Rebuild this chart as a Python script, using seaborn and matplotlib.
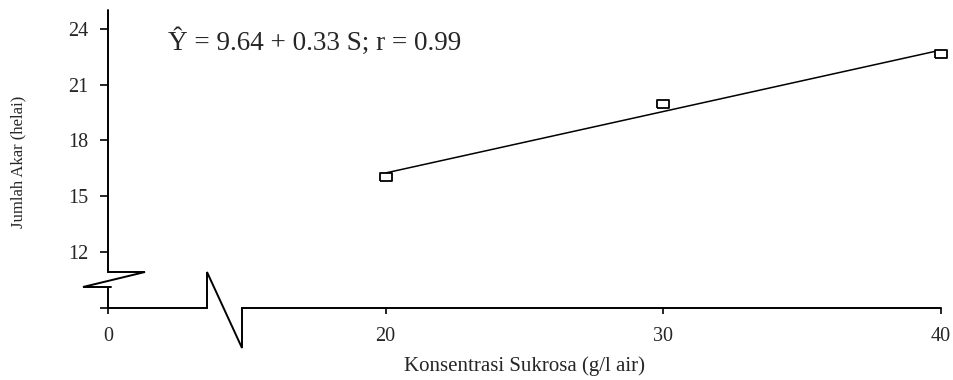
import numpy as np
import pandas as pd
import matplotlib
matplotlib.use("Agg")
import matplotlib.pyplot as plt
import seaborn as sns

# ---- data ----
sucrose = [20, 30, 40]            # Konsentrasi Sukrosa (g/l air)
roots = [16.05, 19.95, 22.65]     # Jumlah Akar (helai)
x_ticks = [0, 20, 30, 40]
x_ticklabels = ["0", "20", "30", "40"]
y_ticks = [9, 12, 15, 18, 21, 24]
y_ticklabels = ["", "12", "15", "18", "21", "24"]
equation = "\u0176 = 9.64 + 0.33 S; r = 0.99"
x_label = "Konsentrasi Sukrosa (g/l air)"
y_label = "Jumlah Akar (helai)"

df = pd.DataFrame({"S": sucrose, "Y": roots})

sns.set_style("ticks")
plt.rcParams["font.family"] = ["Liberation Serif", "DejaVu Serif"]

W, H = 954, 380
fig = plt.figure(figsize=(W / 100, H / 100), dpi=100)
L, R, T, B = 108, 941, 10, 308
ax = fig.add_axes([L / W, (H - B) / H, (R - L) / W, (B - T) / H])

# broken x scale: 0..20 compressed into 10..20
def fwd(x):
    x = np.asarray(x, dtype=float)
    return np.where(x < 20, 10 + x / 2.0, x)

def inv(u):
    u = np.asarray(u, dtype=float)
    return np.where(u < 20, (u - 10) * 2.0, u)

ax.set_xscale("function", functions=(fwd, inv))
ax.set_xlim(0, 40)
ax.set_ylim(9, 25)

sns.regplot(data=df, x="S", y="Y", ci=None, scatter=False, truncate=True,
            line_kws=dict(color="black", lw=1.1), ax=ax)
rect = [(-1, -0.65), (1, -0.65), (1, 0.65), (-1, 0.65), (-1, -0.65)]
sns.scatterplot(data=df, x="S", y="Y", marker=rect, s=70, facecolor="white",
                edgecolor="black", linewidth=1.3, zorder=4, clip_on=False, ax=ax)

ax.set_xticks(x_ticks)
ax.set_xticklabels(x_ticklabels)
ax.set_yticks(y_ticks)
ax.set_yticklabels(y_ticklabels)
ax.minorticks_off()
ax.tick_params(axis="x", length=4.5, width=1.2, pad=9, labelsize=14.5, color="black")
ax.tick_params(axis="y", length=6, width=1.2, pad=8, labelsize=14.5, color="black")

for s in ax.spines.values():
    s.set_visible(False)

def fx(px):
    return (px - L) / (R - L)

def fy(py):
    return (B - py) / (B - T)

lw = 1.4
# y-axis with break
ax.plot([fx(108), fx(108), fx(145), fx(83), fx(111)],
        [fy(10), fy(272), fy(272), fy(287), fy(287)],
        transform=ax.transAxes, color="black", lw=lw, clip_on=False,
        solid_joinstyle="miter")
ax.plot([fx(108), fx(108)], [fy(287), fy(308)], transform=ax.transAxes,
        color="black", lw=lw, clip_on=False)
# x-axis with break
ax.plot([fx(108), fx(207), fx(207), fx(242), fx(242), fx(941)],
        [fy(308), fy(308), fy(272), fy(348), fy(308), fy(308)],
        transform=ax.transAxes, color="black", lw=lw, clip_on=False,
        solid_joinstyle="miter")

ax.text(fx(168), fy(42), equation, transform=ax.transAxes, ha="left",
        va="center", fontsize=19.5)

ax.set_xlabel(x_label, fontsize=15)
ax.xaxis.set_label_coords(fx(525), fy(366))
ax.xaxis.label.set_va("center")
ax.set_ylabel(y_label, fontsize=12)
ax.yaxis.set_label_coords(fx(18), fy(162))
ax.yaxis.label.set_va("center")

fig.savefig("out.png", dpi=100)
